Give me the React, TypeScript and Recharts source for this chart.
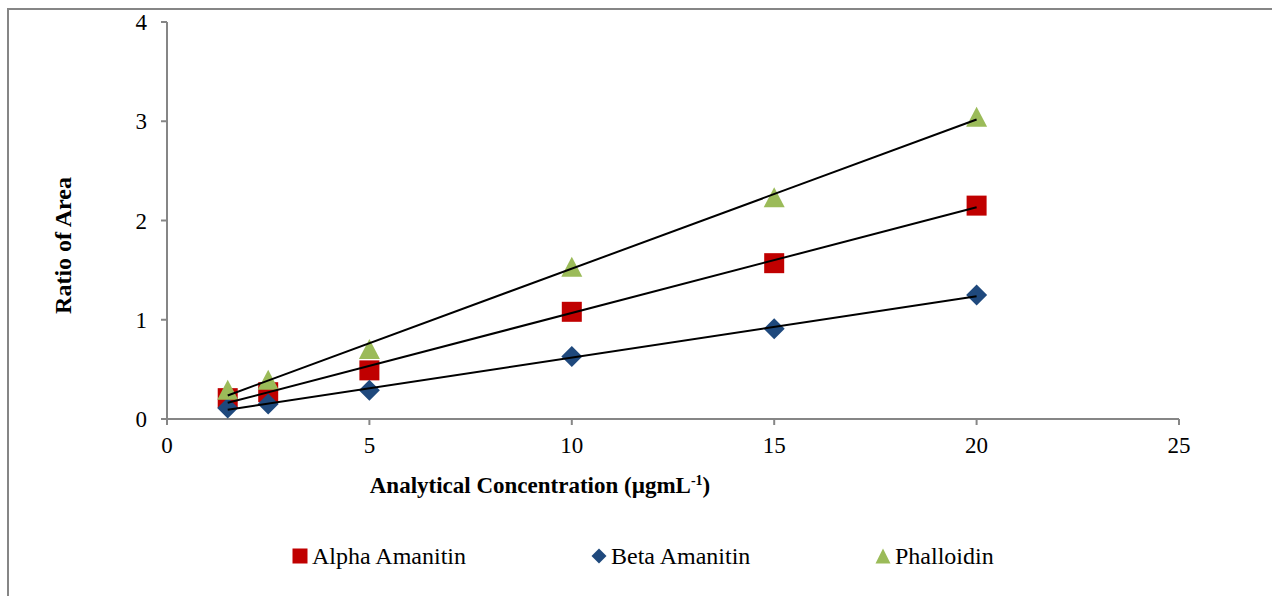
import React from 'react';
import { ScatterChart, Scatter, XAxis, YAxis } from 'recharts';

const concentrations = [1.5, 2.5, 5, 10, 15, 20];
const alphaValues = [0.21, 0.27, 0.49, 1.08, 1.57, 2.15];
const betaValues = [0.11, 0.15, 0.29, 0.63, 0.91, 1.25];
const phalloidinValues = [0.29, 0.39, 0.7, 1.53, 2.23, 3.04];

// trendline endpoints (x = 1.5 and x = 20)
const trendX = [1.5, 20];
const alphaTrend = [0.163, 2.133];
const betaTrend = [0.093, 1.237];
const phalloidinTrend = [0.237, 3.018];

const xTicks = [0, 5, 10, 15, 20, 25];
const yTicks = [0, 1, 2, 3, 4];

const seriesNames = ['Alpha Amanitin', 'Beta Amanitin', 'Phalloidin'];
const colors = ['#C00000', '#1F497D', '#9BBB59'];

const toPoints = (xs: number[], ys: number[]) => xs.map((x, i) => ({ x, y: ys[i] }));

const alphaData = toPoints(concentrations, alphaValues);
const betaData = toPoints(concentrations, betaValues);
const phalloidinData = toPoints(concentrations, phalloidinValues);
const alphaLine = toPoints(trendX, alphaTrend);
const betaLine = toPoints(trendX, betaTrend);
const phalloidinLine = toPoints(trendX, phalloidinTrend);

const FONT = '"Liberation Serif", "Times New Roman", serif';
const AXIS = '#868686';

const Square = (p: any) => (
  <rect x={p.cx - 10} y={p.cy - 10} width={20} height={20} fill={colors[0]} />
);
const Diamond = (p: any) => (
  <path d={`M${p.cx},${p.cy - 10.5}L${p.cx + 10.5},${p.cy}L${p.cx},${p.cy + 10.5}L${p.cx - 10.5},${p.cy}Z`} fill={colors[1]} />
);
const Triangle = (p: any) => (
  <path d={`M${p.cx},${p.cy - 10.5}L${p.cx + 10.5},${p.cy + 9.5}L${p.cx - 10.5},${p.cy + 9.5}Z`} fill={colors[2]} />
);
const NoShape = () => <g />;

const YTitle = (props: any) => {
  const vb = props.viewBox || { x: 0, y: 0, width: 0, height: 0 };
  const cx = vb.x - 44;
  const cy = vb.y + vb.height / 2 + 25;
  return (
    <text x={cx} y={cy} transform={`rotate(-90 ${cx} ${cy})`} textAnchor="middle" dominantBaseline="central"
      fontFamily={FONT} fontSize={24} fontWeight="bold" fill="#000">
      Ratio of Area
    </text>
  );
};

const XTitle = (props: any) => {
  const vb = props.viewBox || { x: 0, y: 0, width: 0, height: 0 };
  const x = vb.x + 373;
  const y = vb.y + 74;
  return (
    <text x={x} y={y} textAnchor="middle" fontFamily={FONT} fontSize={23} fontWeight="bold" fill="#000">
      Analytical Concentration (µgmL
      <tspan fontSize={14} dy={-8}>-1</tspan>
      <tspan dy={8}>)</tspan>
    </text>
  );
};

const LegendIcon = ({ i }: { i: number }) => {
  if (i === 0) return <svg width={16} height={16}><rect x={0.5} y={0.5} width={15} height={15} fill={colors[0]} /></svg>;
  if (i === 1) return <svg width={16} height={16}><path d="M8,0.5L15.5,8L8,15.5L0.5,8Z" fill={colors[1]} /></svg>;
  return <svg width={16} height={16}><path d="M8,0.5L15.5,15.5L0.5,15.5Z" fill={colors[2]} /></svg>;
};

const legendLefts = [292, 591, 875];

export default function App() {
  return (
    <div style={{ position: 'absolute', left: 0, top: 0, width: 1272, height: 596, overflow: 'hidden', background: '#fff' }}>
      <div style={{ position: 'absolute', left: 7, top: 8, width: 1400, height: 800, border: `2px solid ${AXIS}`, boxSizing: 'border-box' }} />
      <div style={{ position: 'absolute', left: 0, top: 0 }}>
        <ScatterChart width={1272} height={596} margin={{ top: 22, right: 93, bottom: 147, left: 107 }}>
          <XAxis
            type="number"
            dataKey="x"
            domain={[0, 25]}
            ticks={xTicks}
            interval={0}
            allowDecimals={false}
            height={30}
            axisLine={{ stroke: AXIS, strokeWidth: 2 }}
            tickLine={{ stroke: AXIS, strokeWidth: 2 }}
            tickSize={6}
            tickMargin={12}
            tick={{ fill: '#000', fontFamily: FONT, fontSize: 23 }}
            label={<XTitle />}
          />
          <YAxis
            type="number"
            dataKey="y"
            domain={[0, 4]}
            ticks={yTicks}
            interval={0}
            width={60}
            axisLine={{ stroke: AXIS, strokeWidth: 2 }}
            tickLine={{ stroke: AXIS, strokeWidth: 2 }}
            tickSize={6}
            tickMargin={14}
            tick={{ fill: '#000', fontFamily: FONT, fontSize: 23 }}
            label={<YTitle />}
          />
          <Scatter name={seriesNames[0]} data={alphaData} shape={Square} isAnimationActive={false} />
          <Scatter name={seriesNames[1]} data={betaData} shape={Diamond} isAnimationActive={false} />
          <Scatter name={seriesNames[2]} data={phalloidinData} shape={Triangle} isAnimationActive={false} />
          <Scatter data={alphaLine} line={{ stroke: '#000', strokeWidth: 2 }} shape={NoShape} legendType="none" isAnimationActive={false} />
          <Scatter data={betaLine} line={{ stroke: '#000', strokeWidth: 2 }} shape={NoShape} legendType="none" isAnimationActive={false} />
          <Scatter data={phalloidinLine} line={{ stroke: '#000', strokeWidth: 2 }} shape={NoShape} legendType="none" isAnimationActive={false} />
        </ScatterChart>
      </div>
      {seriesNames.map((name, i) => (
        <div key={name} style={{ position: 'absolute', left: legendLefts[i], top: 541, display: 'flex', alignItems: 'center', fontFamily: FONT, fontSize: 24, color: '#000', whiteSpace: 'nowrap', lineHeight: '30px' }}>
          <LegendIcon i={i} />
          <span style={{ marginLeft: 4 }}>{name}</span>
        </div>
      ))}
    </div>
  );
}
